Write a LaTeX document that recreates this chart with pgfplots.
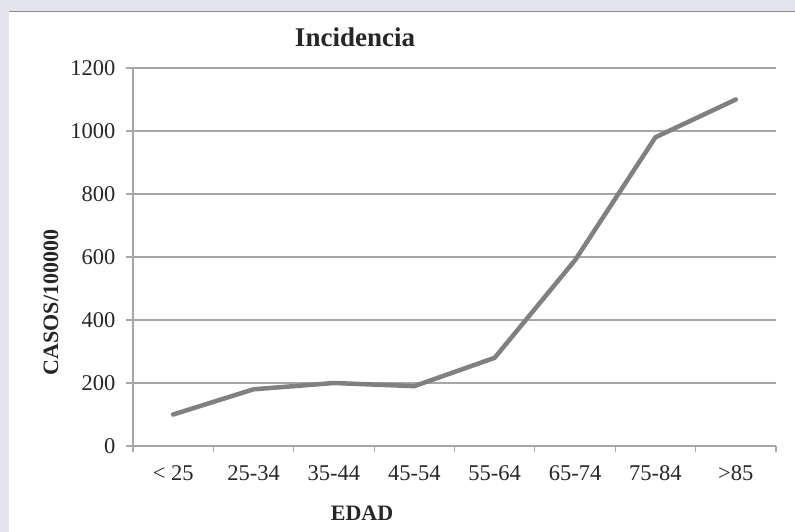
\documentclass[border=0pt]{standalone}
\usepackage{fontspec}
\setmainfont{Liberation Serif}
\usepackage{pgfplots}
\pgfplotsset{compat=1.18}
\definecolor{bgpanel}{HTML}{E4E4EE}
\definecolor{framegray}{HTML}{8C8C8C}
\definecolor{gridgray}{HTML}{A6A6A6}
\definecolor{linegray}{HTML}{808080}
\begin{document}
\begin{tikzpicture}
	\path[use as bounding box] (0,0) rectangle (795pt,532pt);
	\fill[bgpanel] (0,0) rectangle (795pt,532pt);
	\fill[white] (9pt,0) rectangle (795pt,520pt);
	\draw[framegray, line width=1.2pt] (9pt,520.5pt) -- (795pt,520.5pt);
	\begin{axis}[
			at={(133pt,86pt)},
			anchor=south west,
			scale only axis,
			width=643pt,
			height=378pt,
			xmin=0,
			xmax=8,
			ymin=0,
			ymax=1200,
			axis x line*=bottom,
			axis y line*=left,
			axis line style={-, gridgray, line width=1.2pt},
			xtick={0.5,1.5,2.5,3.5,4.5,5.5,6.5,7.5},
			xticklabels={< 25,25-34,35-44,45-54,55-64,65-74,75-84,>85},
			minor xtick={0,1,...,8},
			major x tick style={draw=none},
			ytick={0,200,...,1200},
			ymajorgrids,
			major grid style={gridgray, line width=1.2pt},
			tick style={gridgray, line width=1.2pt},
			tick align=outside,
			major tick length=7pt,
			minor tick length=6pt,
			ticklabel style={font=\fontsize{22.5}{22.5}\selectfont, text=black!85},
			xticklabel style={yshift=-9pt},
			yticklabel style={xshift=-7pt},
			/pgf/number format/assume math mode=true,
			/pgf/number format/1000 sep={},
			clip=false
		]
		\addplot[linegray, line width=4.5pt, line join=round, line cap=round] coordinates {
				(0.5, 100)
				(1.5, 180)
				(2.5, 200)
				(3.5, 190)
				(4.5, 280)
				(5.5, 590)
				(6.5, 980)
				(7.5, 1100)
			};
	\end{axis}
	\node[font=\fontsize{27}{27}\selectfont\bfseries, text=black!85] at (355pt,495pt) {Incidencia};
	\node[font=\fontsize{22}{22}\selectfont\bfseries, text=black!85] at (362pt,19pt) {EDAD};
	\node[font=\fontsize{22}{22}\selectfont\bfseries, text=black!85, rotate=90] at (51pt,229.5pt) {CASOS/100000};
\end{tikzpicture}
\end{document}
